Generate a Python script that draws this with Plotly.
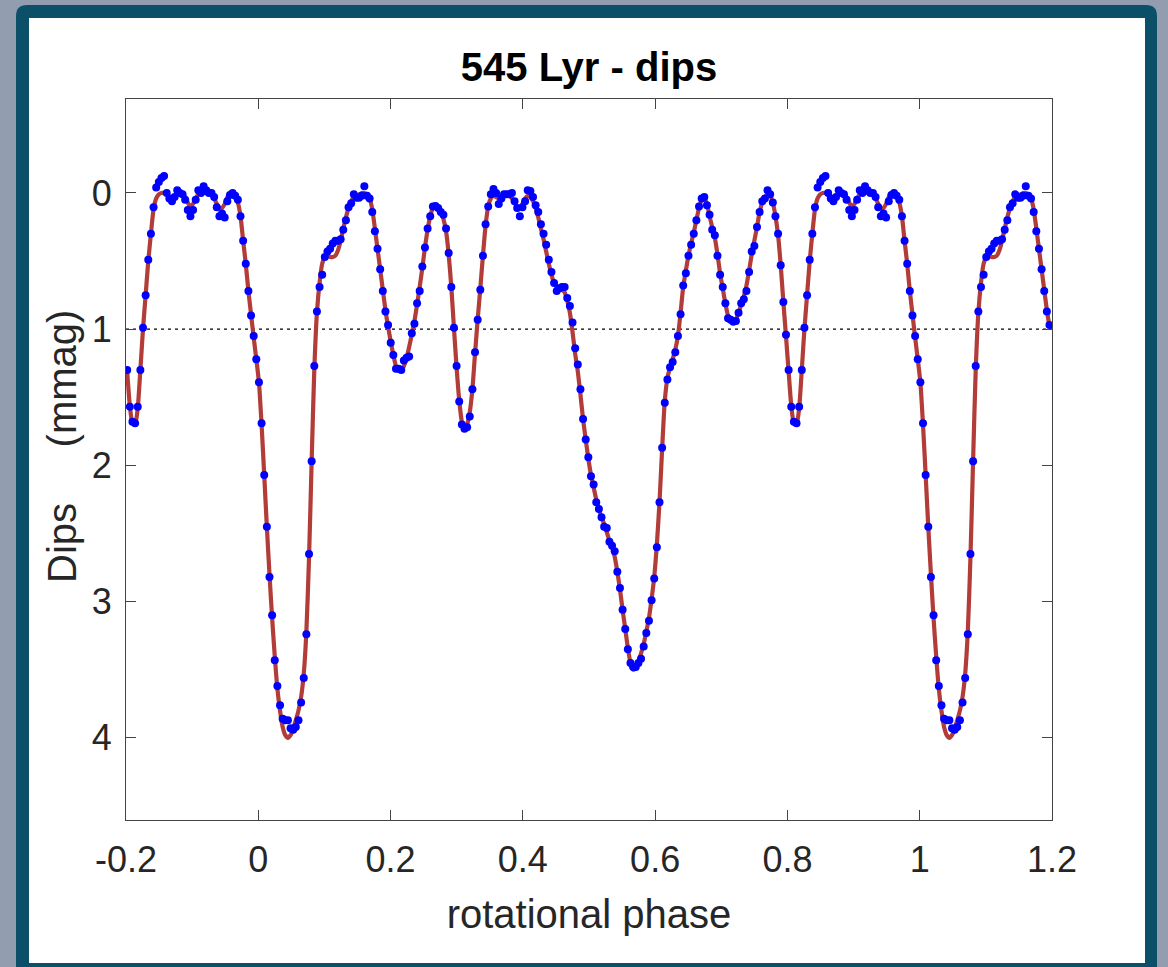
import plotly.graph_objects as go

# ---------------- data (one rotational cycle) ----------------
N_BINS = 251                 # dots per rotational cycle
PHASE_OFFSET = 0.001         # phase of the first bin

dips_obs = [
    1.39, 1.69, 2.07, 2.45, 2.82, 3.10, 3.43, 3.62, 3.76, 3.86,
    3.87, 3.87, 3.93, 3.94, 3.92, 3.87, 3.74, 3.56, 3.24, 2.65,
    1.97, 1.27, 0.87, 0.69, 0.60, 0.47, 0.43, 0.41, 0.37, 0.35,
    0.35, 0.34, 0.27, 0.20, 0.105, 0.075, 0.01, 0.035, 0.035, 0.02,
    -0.05, 0.02, 0.04, 0.14, 0.28, 0.41, 0.56, 0.72, 0.87, 0.97,
    1.10, 1.19, 1.29, 1.29, 1.30, 1.23, 1.21, 1.20, 1.03, 0.96,
    0.81, 0.72, 0.54, 0.40, 0.26, 0.17, 0.10, 0.095, 0.11, 0.14,
    0.16, 0.26, 0.44, 0.69, 0.99, 1.27, 1.53, 1.70, 1.73, 1.72,
    1.64, 1.44, 1.17, 0.93, 0.71, 0.46, 0.23, 0.10, 0.01, -0.03,
    0.00, 0.08, 0.04, 0.01, 0.01, 0.01, 0.00, 0.06, 0.11, 0.17,
    0.105, 0.06, -0.02, -0.015, 0.03, 0.09, 0.14, 0.23, 0.30, 0.38,
    0.49, 0.58, 0.66, 0.72, 0.70, 0.69, 0.69, 0.77, 0.83, 0.95,
    1.14, 1.26, 1.44, 1.66, 1.81, 1.94, 2.08, 2.14, 2.27, 2.32,
    2.38, 2.45, 2.46, 2.56, 2.59, 2.63, 2.78, 2.90, 3.06, 3.20,
    3.35, 3.45, 3.48, 3.48, 3.45, 3.42, 3.33, 3.23, 3.14, 2.99,
    2.83, 2.60, 2.27, 1.87, 1.54, 1.37, 1.28, 1.24, 1.17, 1.05,
    0.89, 0.68, 0.59, 0.46, 0.38, 0.30, 0.20, 0.10, 0.04, 0.03,
    0.09, 0.16, 0.27, 0.31, 0.46, 0.60, 0.69, 0.81, 0.92, 0.93,
    0.945, 0.94, 0.88, 0.81, 0.78, 0.72, 0.58, 0.43, 0.39, 0.25,
    0.14, 0.06, 0.04, -0.02, 0.01, 0.07, 0.17, 0.30, 0.53, 0.80,
    1.04, 1.30, 1.57, 1.68, 1.69, 1.57, 1.30, 0.99, 0.75, 0.49,
    0.30, 0.105, -0.04, -0.08, -0.11, -0.125, 0.00, 0.04, 0.06, 0.03,
    -0.02, 0.00, 0.01, 0.05, 0.125, 0.17, 0.125, 0.05, -0.02, 0.00,
    -0.05, -0.02, 0.00, 0.00, 0.03, 0.105, 0.17, 0.15, 0.18, 0.06,
    0.015, 0.00, 0.02, 0.05, 0.17, 0.35, 0.52, 0.72, 0.90, 1.05,
    1.22,
]

dips_fit = [
    1.39, 1.70, 2.07, 2.45, 2.80, 3.12, 3.40, 3.64, 3.80, 3.92,
    3.98, 4.00, 3.98, 3.93, 3.87, 3.80, 3.70, 3.53, 3.22, 2.68,
    1.97, 1.30, 0.88, 0.66, 0.52, 0.47, 0.46, 0.47, 0.47, 0.46,
    0.42, 0.35, 0.26, 0.18, 0.11, 0.06, 0.03, 0.02, 0.01, 0.00,
    0.00, 0.01, 0.04, 0.12, 0.26, 0.41, 0.56, 0.71, 0.86, 0.98,
    1.09, 1.19, 1.27, 1.30, 1.30, 1.27, 1.21, 1.13, 1.04, 0.94,
    0.82, 0.69, 0.55, 0.40, 0.27, 0.17, 0.11, 0.09, 0.10, 0.13,
    0.19, 0.28, 0.45, 0.69, 0.99, 1.28, 1.52, 1.68, 1.74, 1.70,
    1.61, 1.44, 1.18, 0.93, 0.70, 0.46, 0.24, 0.10, 0.04, 0.02,
    0.03, 0.04, 0.03, 0.02, 0.02, 0.02, 0.04, 0.07, 0.10, 0.11,
    0.08, 0.04, 0.02, 0.03, 0.06, 0.11, 0.18, 0.26, 0.34, 0.43,
    0.52, 0.60, 0.66, 0.69, 0.70, 0.71, 0.73, 0.79, 0.88, 1.02,
    1.18, 1.31, 1.48, 1.66, 1.81, 1.95, 2.07, 2.16, 2.25, 2.32,
    2.38, 2.43, 2.49, 2.55, 2.60, 2.67, 2.78, 2.91, 3.06, 3.20,
    3.34, 3.45, 3.50, 3.49, 3.44, 3.38, 3.31, 3.22, 3.12, 2.98,
    2.82, 2.58, 2.27, 1.88, 1.53, 1.36, 1.28, 1.22, 1.15, 1.05,
    0.88, 0.69, 0.57, 0.46, 0.37, 0.29, 0.20, 0.11, 0.05, 0.04,
    0.08, 0.17, 0.25, 0.33, 0.45, 0.59, 0.70, 0.81, 0.90, 0.94,
    0.95, 0.93, 0.88, 0.82, 0.76, 0.68, 0.57, 0.45, 0.35, 0.25,
    0.14, 0.07, 0.03, 0.01, 0.02, 0.07, 0.17, 0.31, 0.53, 0.80,
    1.05, 1.31, 1.56, 1.69, 1.70, 1.58, 1.30, 1.00, 0.75, 0.50,
    0.30, 0.12, 0.04, 0.01, 0.00, 0.00, 0.01, 0.03, 0.04, 0.03,
    0.01, 0.00, 0.00, 0.03, 0.07, 0.10, 0.08, 0.04, 0.01, 0.00,
    0.00, 0.00, 0.00, 0.01, 0.04, 0.08, 0.11, 0.11, 0.08, 0.03,
    0.00, 0.00, 0.02, 0.07, 0.17, 0.35, 0.52, 0.72, 0.89, 1.06,
    1.22,
]

reference_level = 1.0
x_ticks = [-0.2, 0, 0.2, 0.4, 0.6, 0.8, 1, 1.2]
x_tick_labels = ["-0.2", "0", "0.2", "0.4", "0.6", "0.8", "1", "1.2"]
y_ticks = [0, 1, 2, 3, 4]
y_tick_labels = ["0", "1", "2", "3", "4"]
X_RANGE = [-0.2, 1.2]
Y_RANGE = [4.603, -0.690]    # reversed (magnitudes)

# ---------------- phase folding: show -0.2 ... 1.2 ----------------
cycle_phase = [PHASE_OFFSET + i / N_BINS for i in range(N_BINS)]


def fold(values):
    xs, ys = [], []
    for shift in (-1, 0, 1):
        for p, v in zip(cycle_phase, values):
            x = p + shift
            if X_RANGE[0] <= x <= X_RANGE[1]:
                xs.append(x)
                ys.append(v)
    return xs, ys


obs_x, obs_y = fold(dips_obs)
fit_x, fit_y = fold(dips_fit)

# ---------------- figure ----------------
W, H = 1168, 967
ML, MR, MT, MB = 126, 116, 99, 147
PW, PH = W - ML - MR, H - MT - MB


def px_x(px):
    return (px - ML) / PW


def px_y(py):
    return (H - MB - py) / PH


FONT = "Liberation Sans, Arial, Helvetica, sans-serif"
INK = "#262626"

fig = go.Figure()

fig.add_trace(go.Scatter(
    x=fit_x, y=fit_y, mode="lines",
    line=dict(color="#b23c38", width=4.2, shape="spline", smoothing=0.6),
    hoverinfo="skip", showlegend=False,
))
fig.add_trace(go.Scatter(
    x=obs_x, y=obs_y, mode="markers",
    marker=dict(color="#0000ff", size=8, line=dict(width=0)),
    showlegend=False,
))

# rounded teal frame + white panel (page decoration)
fx0, fx1, fy0, fy1 = px_x(16), px_x(1157), px_y(995), px_y(5)
rx, ry = 11 / PW, 11 / PH
frame_path = (
    f"M {fx0 + rx},{fy1} L {fx1 - rx},{fy1} Q {fx1},{fy1} {fx1},{fy1 - ry} "
    f"L {fx1},{fy0} L {fx0},{fy0} L {fx0},{fy1 - ry} Q {fx0},{fy1} {fx0 + rx},{fy1} Z"
)
shapes = [
    dict(type="path", xref="paper", yref="paper", path=frame_path,
         fillcolor="#0b5068", line=dict(width=0), layer="below"),
    dict(type="rect", xref="paper", yref="paper",
         x0=px_x(29), x1=px_x(1145), y0=px_y(963), y1=px_y(18),
         fillcolor="#ffffff", line=dict(width=0), layer="below"),
    dict(type="line", xref="paper", yref="y", x0=0, x1=1,
         y0=reference_level, y1=reference_level,
         line=dict(color="#000000", width=1.3, dash="3px,4px"), layer="below"),
]

axis_common = dict(
    showgrid=False, zeroline=False,
    showline=True, linecolor="#444444", linewidth=1.2, mirror="allticks",
    ticks="inside", ticklen=10, tickwidth=1.2, tickcolor="#444444",
    tickfont=dict(family=FONT, size=36, color=INK),
)

fig.update_layout(
    width=W, height=H,
    margin=dict(l=ML, r=MR, t=MT, b=MB, pad=0),
    paper_bgcolor="#929db0",
    plot_bgcolor="#ffffff",
    shapes=shapes,
    title=dict(text="<b>545 Lyr - dips</b>", x=589 / W,
               xanchor="center", y=1 - 67 / H, yanchor="middle",
               font=dict(family=FONT, size=40, color="#000000")),
    xaxis=dict(range=X_RANGE, tickvals=x_ticks, ticktext=x_tick_labels,
               title=dict(text="rotational phase", standoff=20,
                          font=dict(family=FONT, size=40, color=INK)),
               ticklabelstandoff=8, **axis_common),
    yaxis=dict(range=Y_RANGE, tickvals=y_ticks, ticktext=y_tick_labels,
               ticklabelstandoff=6, **axis_common),
    annotations=[dict(
        text="Dips\u00a0\u00a0\u00a0\u00a0\u00a0(mmag)", textangle=-90,
        xref="paper", yref="paper", x=px_x(62), y=px_y(447),
        xanchor="center", yanchor="middle", showarrow=False,
        font=dict(family=FONT, size=40, color=INK),
    )],
)

fig.write_html("out.html")
